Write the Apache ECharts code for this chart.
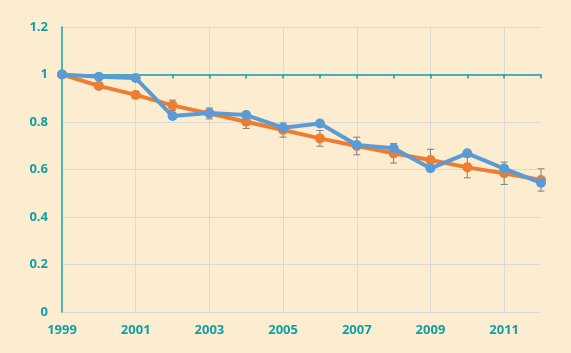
<!DOCTYPE html>
<html lang="en">

<head>
  <meta charset="UTF-8" />
  <script src="https://cdn.jsdelivr.net/npm/echarts@6/dist/echarts.min.js"></script>
  <title>Chart</title>
  <style>
    body { margin: 0; background: #fdedd0; }
  </style>
</head>

<body>
  <div id="main" style="width: 571px; height: 353px;"></div>
  <script type="text/javascript">
    // years on the x axis
    var years = ["1999", "2000", "2001", "2002", "2003", "2004", "2005", "2006",
      "2007", "2008", "2009", "2010", "2011", "2012"];
    // orange series with error bars
    var orangeValues = [1.0, 0.952, 0.914, 0.870, 0.836, 0.801, 0.766, 0.731,
      0.699, 0.668, 0.640, 0.609, 0.584, 0.556];
    var orangeErrors = [0, 0.01, 0.015, 0.022, 0.023, 0.028, 0.03, 0.033,
      0.037, 0.041, 0.045, 0.044, 0.047, 0.047];
    // blue series
    var blueValues = [1.0, 0.991, 0.985, 0.825, 0.838, 0.829, 0.776, 0.794,
      0.703, 0.689, 0.605, 0.668, 0.604, 0.544];

    var teal = "#12a0a6";
    var labelFont = { color: teal, fontFamily: "Open Sans", fontWeight: "bold", fontSize: 13 };

    var errorData = orangeValues.map(function (v, i) {
      return [i, v - orangeErrors[i], v + orangeErrors[i]];
    });

    function renderError(params, api) {
      var low = api.coord([api.value(0), api.value(1)]);
      var high = api.coord([api.value(0), api.value(2)]);
      var half = 3.5;
      var style = { stroke: "#7f7f7f", lineWidth: 1 };
      return {
        type: "group",
        children: [
          { type: "line", shape: { x1: low[0], y1: low[1], x2: high[0], y2: high[1] }, style: style },
          { type: "line", shape: { x1: low[0] - half, y1: low[1], x2: low[0] + half, y2: low[1] }, style: style },
          { type: "line", shape: { x1: high[0] - half, y1: high[1], x2: high[0] + half, y2: high[1] }, style: style }
        ]
      };
    }

    var myChart = echarts.init(document.querySelector("#main"));
    myChart.setOption({
      backgroundColor: "#fdedd0",
      animation: false,
      grid: [
        { left: 62, right: 30, top: 27, bottom: 41 },
        // second grid whose top edge sits on y = 1, carries the teal axis line
        { left: 62, right: 30, top: 74.5, bottom: 41 }
      ],
      xAxis: [
        {
          type: "category",
          data: years,
          boundaryGap: false,
          gridIndex: 0,
          axisLine: { show: false },
          axisTick: { show: false },
          axisLabel: Object.assign({ interval: 1, margin: 12 }, labelFont),
          splitLine: {
            show: true,
            interval: function (i) { return i > 0 && i % 2 === 0; },
            lineStyle: { color: "#d9d9d9", width: 1 }
          }
        },
        {
          type: "category",
          data: years,
          boundaryGap: false,
          gridIndex: 1,
          position: "top",
          axisLine: { show: true, onZero: false, lineStyle: { color: teal, width: 1.5 } },
          axisTick: { show: true, inside: true, length: 4, interval: 0, lineStyle: { color: teal, width: 1.5 } },
          axisLabel: { show: false },
          splitLine: { show: false }
        }
      ],
      yAxis: [
        {
          type: "value",
          gridIndex: 0,
          min: 0,
          max: 1.2,
          interval: 0.2,
          axisLine: { show: true, onZero: false, lineStyle: { color: teal, width: 1.5 } },
          axisTick: { show: false },
          axisLabel: Object.assign({ margin: 14 }, labelFont),
          splitLine: { lineStyle: { color: "#d9d9d9", width: 1 } }
        },
        {
          type: "value",
          gridIndex: 1,
          min: 0,
          max: 1,
          show: false
        }
      ],
      series: [
        {
          type: "custom",
          renderItem: renderError,
          xAxisIndex: 0,
          yAxisIndex: 0,
          encode: { x: 0, y: [1, 2] },
          data: errorData,
          z: 1
        },
        {
          type: "line",
          data: orangeValues,
          symbol: "circle",
          symbolSize: 10,
          lineStyle: { color: "#ed7d31", width: 4 },
          itemStyle: { color: "#ed7d31" },
          z: 2
        },
        {
          type: "line",
          data: blueValues,
          symbol: "circle",
          symbolSize: 10,
          lineStyle: { color: "#5b9bd5", width: 4 },
          itemStyle: { color: "#5b9bd5" },
          z: 3
        }
      ]
    });
  </script>
</body>

</html>
